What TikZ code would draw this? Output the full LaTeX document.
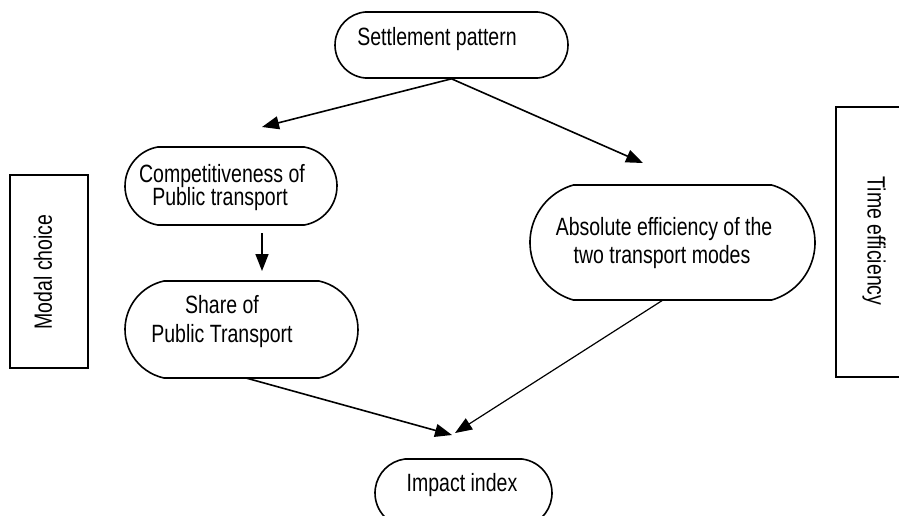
\documentclass[tikz,border=0pt]{standalone}
\usepackage{fontspec}
\setmainfont{Liberation Sans}[FakeStretch=0.78]
\usetikzlibrary{shapes.misc,arrows.meta}
\begin{document}
\begin{tikzpicture}[x=1pt,y=-1pt,
  box/.style={draw,line width=1.6pt,rounded rectangle,inner sep=0pt,minimum width=#1},
  lbl/.style={anchor=base,inner sep=0pt,font=\fontsize{25}{25}\selectfont},
  arr/.style={line width=1.6pt,-{Triangle[length=17pt,width=13pt]}},
  frame/.style={draw,line width=1.7pt}]
\useasboundingbox (0,0) rectangle (899,515);
% boxes
\node[box=233pt,minimum height=66pt,rounded rectangle arc length=170] (settle) at (451.5,45) {};
\node[box=212pt,minimum height=78pt,rounded rectangle arc length=160] (comp) at (231,186) {};
\node[box=233pt,minimum height=97pt,rounded rectangle arc length=155] (share) at (241.5,329.5) {};
\node[box=285pt,minimum height=115pt,rounded rectangle arc length=148] (abs) at (672.5,242.5) {};
\node[box=177pt,minimum height=68pt,rounded rectangle arc length=165] (impact) at (463.5,493) {};
% side frames
\node[frame,minimum width=78pt,minimum height=193pt,inner sep=0pt] (modal) at (49,271.5) {};
\node[frame,minimum width=80pt,minimum height=270pt,inner sep=0pt] (time) at (876,242) {};
% labels
\node[lbl] (settleT) at (437,45) {Settlement pattern};
\node[lbl] (compT1) at (222,182) {Competitiveness of};
\node[lbl] (compT2) at (220,205) {Public transport};
\node[lbl] (shareT1) at (222,313) {Share of};
\node[lbl] (shareT2) at (222,342) {Public Transport};
\node[lbl] (absT1) at (664,235) {Absolute efficiency of the};
\node[lbl] (absT2) at (662,263) {two transport modes};
\node[lbl] (impactT) at (462,491) {Impact index};
\node[inner sep=0pt,rotate=90,font=\fontsize{25}{25}\selectfont] (modalT) at (43,272) {Modal choice};
\node[inner sep=0pt,rotate=-90,font=\fontsize{25}{25}\selectfont] (timeT) at (874,241) {Time efficiency};
% arrow end points
\coordinate (c1) at (262,127);
\coordinate (c2) at (643,163);
\coordinate (c3a) at (262,233);
\coordinate (c3b) at (262,271);
\coordinate (c4a) at (246,378);
\coordinate (c4b) at (452,435);
\coordinate (c5a) at (663,300);
\coordinate (c5b) at (455,433);
% connectors
\draw[arr] (settle.south) -- (c1);
\draw[arr] (settle.south) -- (c2);
\draw[arr] (c3a) -- (c3b);
\draw[arr] (c4a) -- (c4b);
\draw[arr,line width=1.2pt] (c5a) -- (c5b);
\end{tikzpicture}
\end{document}
